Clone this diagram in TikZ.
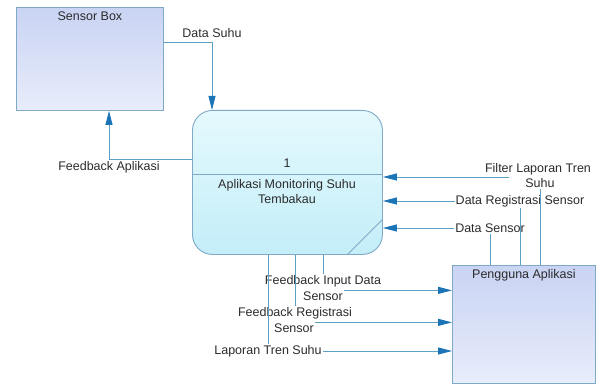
\documentclass[tikz,border=0pt]{standalone}
\usepackage{fontspec}
\setmainfont{Liberation Sans}
\usetikzlibrary{arrows.meta}
\definecolor{lineblue}{HTML}{5E9FC6}
\definecolor{arrowblue}{HTML}{1B74B6}
\definecolor{boxedge}{HTML}{7FA9C6}
\definecolor{extTop}{HTML}{C9D3F3}
\definecolor{extBot}{HTML}{E8EDFB}
\definecolor{procTop}{HTML}{E4F9FD}
\definecolor{procBot}{HTML}{C4EEF9}
\definecolor{txt}{HTML}{2B2B2B}
\begin{document}
\begin{tikzpicture}[x=1pt,y=-1pt,
  font=\fontsize{12.5}{15}\selectfont, text=txt,
  extbox/.style={draw=boxedge, line width=0.9pt, top color=extTop, bottom color=extBot, anchor=north west, inner sep=0pt},
  procbox/.style={draw=boxedge, line width=0.9pt, top color=procTop, bottom color=procBot, rounded corners=20pt, anchor=north west, inner sep=0pt},
  conn/.style={draw=lineblue, line width=0.9pt},
  flow/.style={conn, -{Triangle[length=14pt,width=7pt,color=arrowblue]}},
  lbl/.style={inner sep=1pt}]
\useasboundingbox (0,0) rectangle (600,385);

% entities and process
\node[extbox, minimum width=147pt, minimum height=103pt] (sensor) at (16,7) {};
\node[anchor=north] (sensorT) at ([yshift=-1pt]sensor.north) {Sensor Box};

\node[procbox, minimum width=190pt, minimum height=144pt] (proc) at (192,110) {};
\draw[draw=boxedge, line width=0.9pt] (proc.west |- 0,174) -- (proc.east |- 0,174);
\node (pnum) at (287,163) {1};
\node[align=center] (pname) at (287,192) {Aplikasi Monitoring Suhu\\Tembakau};
\draw[draw=boxedge, line width=0.9pt] (proc.east |- 0,219) -- (proc.south -| 347,0);

\node[extbox, minimum width=143pt, minimum height=118pt] (peng) at (452,265) {};
\node[anchor=north] (pengT) at ([yshift=-1pt]peng.north) {Pengguna Aplikasi};

% Sensor Box <-> process
\node (lDS) at (212,33) {Data Suhu};
\draw[flow] (sensor.east |- 0,42) -| (proc.north -| 212,0);
\node (lFA) at (109,167) {Feedback Aplikasi};
\draw[flow] (proc.west |- 0,159) -| (sensor.south -| 109,0);

% Pengguna -> process
\node[lbl] (lDSe) at (490,228) {Data Sensor};
\draw[conn] (peng.north -| lDSe.south) -- (lDSe.south);
\draw[flow] (lDSe.west) -- (proc.east |- lDSe.west);

\node[lbl] (lDR) at (520,201) {Data Registrasi Sensor};
\draw[conn] (peng.north -| lDR.south) -- (lDR.south);
\draw[flow] (lDR.west) -- (proc.east |- lDR.west);

\node[lbl] (lFL1) at (538,169) {Filter Laporan Tren};
\node[lbl] (lFL2) at (540,183) {Suhu};
\draw[conn] (peng.north -| lFL2.south) -- (lFL2.south);
\draw[flow] ([xshift=-15pt]lFL2.west |- 0,177) -- (proc.east |- 0,177);

% process -> Pengguna
\node[lbl] (lFI1) at (323,281) {Feedback Input Data};
\node[lbl] (lFI2) at (323,296) {Sensor};
\draw[conn] (proc.south -| lFI1.north) -- (lFI1.north);
\draw[flow] (lFI2.north east) -- (peng.west |- lFI2.north east);

\node[lbl] (lFR1) at (295,313) {Feedback Registrasi};
\node[lbl] (lFR2) at (294,328) {Sensor};
\draw[conn] (proc.south -| lFR1.north) -- (lFR1.north);
\draw[flow] (lFR2.north east) -- (peng.west |- lFR2.north east);

\node[lbl] (lLT) at (268,351) {Laporan Tren Suhu};
\draw[conn] (proc.south -| lLT.north) -- (lLT.north);
\draw[flow] (lLT.east) -- (peng.west |- lLT.east);
\end{tikzpicture}
\end{document}
